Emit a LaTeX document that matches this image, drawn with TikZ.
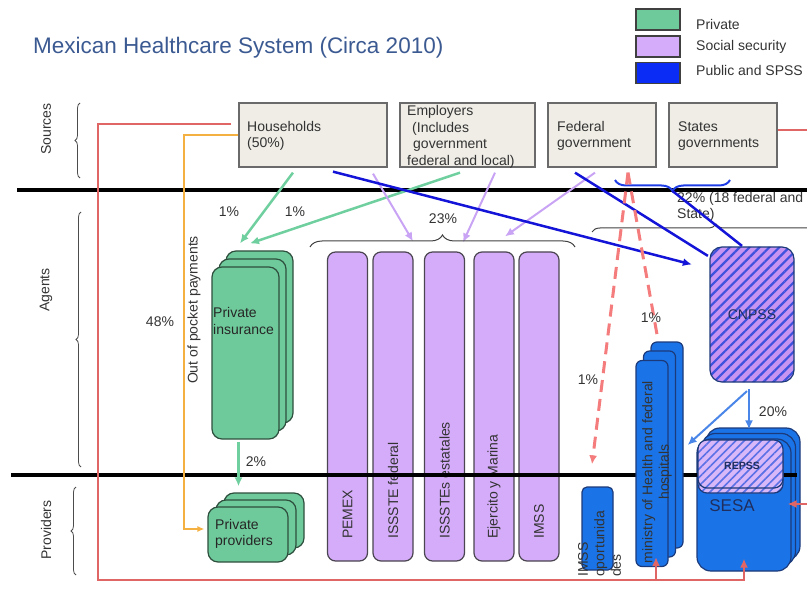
\documentclass[tikz,border=0pt]{standalone}
\usepackage{fontspec}
\setmainfont{Liberation Sans}
\usetikzlibrary{arrows.meta,calc,decorations.pathreplacing,patterns.meta}

\definecolor{titleblue}{HTML}{3C5A92}
\definecolor{srcfill}{HTML}{EFEDE6}
\definecolor{srcdraw}{HTML}{6A6A6A}
\definecolor{pvfill}{HTML}{6FCA9B}
\definecolor{pvdraw}{HTML}{2E4F3E}
\definecolor{ssfill}{HTML}{D5ACF9}
\definecolor{ssdraw}{HTML}{4A4550}
\definecolor{pubfill}{HTML}{1A74E8}
\definecolor{pubdraw}{HTML}{1C3A7A}
\definecolor{legblue}{HTML}{0A2CF5}
\definecolor{hatchfill}{HTML}{C894F2}
\definecolor{hatchline}{HTML}{3F52DE}
\definecolor{hatchfillb}{HTML}{D8B8F8}
\definecolor{hatchlineb}{HTML}{5A70E6}
\definecolor{navytext}{HTML}{1F2E5E}
\definecolor{redflow}{HTML}{E06666}
\definecolor{reddash}{HTML}{F47C7C}
\definecolor{oopflow}{HTML}{F4B142}
\definecolor{greenflow}{HTML}{6FCF9F}
\definecolor{purpleflow}{HTML}{C9A4F5}
\definecolor{blueflow}{HTML}{1414D8}
\definecolor{bracedblue}{HTML}{1F3DE6}
\definecolor{lightflow}{HTML}{4A86E8}

\tikzset{
  lbl/.style={font=\fontsize{14}{16.5}\selectfont, text=black!80, inner sep=0pt},
  srcbox/.style={draw=srcdraw, fill=srcfill, line width=1.3pt, minimum height=64pt, inner sep=0pt},
  pvbox/.style={draw=pvdraw, fill=pvfill, line width=1.2pt, rounded corners=10pt, inner sep=0pt},
  ssbox/.style={draw=ssdraw, fill=ssfill, line width=1.2pt, rounded corners=8pt, inner sep=0pt,
    minimum width=40pt, minimum height=309pt},
  pubbox/.style={draw=pubdraw, fill=pubfill, line width=1.2pt, inner sep=0pt},
  hatchbox/.style={draw=pubdraw, line width=1.2pt, inner sep=0pt, preaction={fill=hatchfill},
    pattern={Lines[angle=45,distance=7pt,line width=2.2pt]}, pattern color=hatchline},
  hatchlight/.style={draw=pubdraw, line width=1.2pt, inner sep=0pt, preaction={fill=hatchfillb},
    pattern={Lines[angle=45,distance=6pt,line width=1.6pt]}, pattern color=hatchlineb},
  keybox/.style={draw=black!75, line width=1.2pt, minimum width=44pt, minimum height=21pt, inner sep=0pt},
  sepline/.style={line width=3.5pt, black},
  sidebrace/.style={decorate, decoration={brace, amplitude=5pt}, black!70, line width=0.8pt},
  flow/.style={line width=2.5pt, -{Latex[length=9pt,width=8pt]}},
  dashflow/.style={reddash, line width=3pt, dash pattern=on 12pt off 7pt},
}

\begin{document}
\begin{tikzpicture}[x=1pt, y=-1pt]
\useasboundingbox (0,0) rectangle (807,591);
\clip (0,0) rectangle (807,591);

% title and key
\node[anchor=west, font=\fontsize{22.5}{26}\selectfont, text=titleblue, inner sep=0pt] (title) at (33,48)
  {Mexican Healthcare System (Circa 2010)};
\node[keybox, fill=pvfill] (keyPv) at (658,19.5) {};
\node[keybox, fill=ssfill] (keySs) at (658,46.5) {};
\node[keybox, fill=legblue] (keyPub) at (658,73) {};
\node[lbl, anchor=west] (keyPvT) at (696,24) {Private};
\node[lbl, anchor=west] (keySsT) at (696,47) {Social security};
\node[lbl, anchor=west] (keyPubT) at (696,70) {Public and SPSS};

% rows
\node[lbl, rotate=90] (rowSrc) at (46,129) {Sources};
\node[lbl, rotate=90] (rowAg) at (46,290) {Agents};
\node[lbl, rotate=90] (rowPr) at (46,530) {Providers};
\draw[sidebrace] (80,178) -- (80,103);
\draw[sidebrace] (81,467) -- (81,212);
\draw[sidebrace] (76,575) -- (76,487);
\draw[sepline] (17,190) -- (807,190);

% sources
\node[srcbox, minimum width=148pt] (hh) at (313,135) {};
\node[srcbox, minimum width=135pt] (emp) at (467.5,135) {};
\node[srcbox, minimum width=108pt] (fed) at (602,135) {};
\node[srcbox, minimum width=108pt] (st) at (723,135) {};
\node[lbl, align=left, anchor=west] (hhT) at (247,136) {Households\\(50\%)};
\node[lbl, align=left, anchor=west] (empT) at (407,137)
  {Employers\\\hspace*{5pt}(Includes\\\hspace*{6pt}government\\federal and local)};
\node[lbl, align=left, anchor=west] (fedT) at (557,136) {Federal\\government};
\node[lbl, align=left, anchor=west] (stT) at (678,136) {States\\governments};

% agents
\node[pvbox, minimum width=67pt, minimum height=172pt] (pins3) at (259.5,337) {};
\node[pvbox, minimum width=67pt, minimum height=172pt] (pins2) at (252.5,345) {};
\node[pvbox, minimum width=67pt, minimum height=172pt] (pins) at (245.5,353) {};
\node[lbl, align=left, anchor=west, text=black!85] (pinsT) at (213,321) {Private\\insurance};

\foreach \n/\x/\lab in {1/347.5/PEMEX, 2/393/ISSSTE federal, 3/444.5/ISSSTEs estatales,
    4/494/Ejercito y Marina, 5/539/IMSS}{
  \node[ssbox] (col\n) at (\x,406.5) {};
  \node[lbl, rotate=90, anchor=west] (colT\n) at (\x,539) {\lab};
}

\node[hatchbox, rounded corners=12pt, minimum width=84pt, minimum height=135pt, text=navytext,
  font=\fontsize{14}{16}\selectfont] (cnpss) at (752,314.5) {CNPSS};

% providers
\node[pvbox, minimum width=80pt, minimum height=55pt] (pprov3) at (264,520.5) {};
\node[pvbox, minimum width=80pt, minimum height=55pt] (pprov2) at (256,527.5) {};
\node[pvbox, minimum width=80pt, minimum height=55pt] (pprov) at (248,534.5) {};
\node[lbl, align=left, anchor=west, text=black!85] (pprovT) at (215,534) {Private\\providers};

\node[pubbox, rounded corners=5pt, minimum width=31pt, minimum height=83pt] (imssop) at (597.5,528.5) {};
\node[lbl, rotate=90, align=left, anchor=north west] (imssopT) at (578,577) {IMSS\\oportunida\\des};

\node[pubbox, rounded corners=14pt, minimum width=94pt, minimum height=132pt] (sesa3) at (753,494) {};
\node[pubbox, rounded corners=14pt, minimum width=94pt, minimum height=132pt] (sesa2) at (748.5,499.5) {};
\node[pubbox, rounded corners=14pt, minimum width=94pt, minimum height=132pt] (sesa) at (744,505) {};
\node[font=\fontsize{17}{20}\selectfont, text=navytext, inner sep=0pt] (sesaT) at (732,506) {SESA};

\draw[sepline] (11,475) -- (797,475);

\node[pubbox, rounded corners=6pt, minimum width=32pt, minimum height=206pt] (min3) at (667,445) {};
\node[pubbox, rounded corners=6pt, minimum width=32pt, minimum height=206pt] (min2) at (659.5,454) {};
\node[pubbox, rounded corners=6pt, minimum width=32pt, minimum height=206pt] (min) at (652,463.5) {};
\node[lbl, rotate=90, align=center] (minT) at (657,472) {ministry of Health and federal\\hospitals};

\node[hatchlight, rounded corners=9pt, minimum width=85pt, minimum height=48pt] (repss2) at (740.5,469) {};
\node[hatchlight, rounded corners=9pt, minimum width=85pt, minimum height=48pt] (repss) at (740.5,464) {};
\node[font=\bfseries\fontsize{10.5}{12}\selectfont, text=navytext, inner sep=0pt] (repssT) at (742,466) {REPSS};

% flows
\draw[flow, greenflow] ($(hh.south)+(-20,5)$) -- ($(pins3.north)+(-19.5,-7)$);
\draw[flow, greenflow] ($(emp.south)+(-7.5,5)$) -- ($(pins3.north)+(-9.5,-7)$);
\draw[flow, greenflow] ($(pins.south)+(-7,2)$) -- ($(pins.south |- pprov3.north)+(-7,-6)$);

\draw[flow, purpleflow, line width=2pt] ($(hh.south)+(60,6)$) -- ($(col2.north)+(20,-10)$);
\draw[flow, purpleflow, line width=2pt] ($(emp.south)+(27.5,5)$) -- ($(col3.north)+(18.5,-9)$);
\draw[flow, purpleflow, line width=2pt] ($(fed.south)+(-7,5)$) -- ($(col4.north)+(11,-15)$);
\draw[decorate, decoration={brace, amplitude=12pt}, black!75, line width=1pt] (310,247) -- (575,247);
\draw[decorate, decoration={brace, amplitude=8pt}, black!75, line width=1pt] (592,232) -- (840,232);

\draw[decorate, decoration={brace, amplitude=11pt}, bracedblue, line width=2pt] (730,180) -- (615,180);
\coordinate (btip) at (672.5,191);
\node[lbl, align=left, anchor=west] (p22) at (677,207) {22\% (18 federal and\\State)};
\draw[flow, blueflow] ($(hh.south)+(20,4)$) -- ($(cnpss.west)+(-17,-50)$);
\draw[blueflow, line width=2.5pt] ($(fed.south)+(-27,5)$) -- ($(cnpss.north west)+(-1,10)$);
\draw[blueflow, line width=2.5pt] (btip) -- ($(cnpss.north)+(-10,0)$);

\coordinate (fedTip) at ($(fed.south)+(26,5)$);
\draw[dashflow, -{Latex[length=9pt,width=8pt]}] (fedTip) -- ($(imssop.north)+(-5.5,-22)$);
\draw[dashflow] (fedTip) -- ($(min3.north)+(-10,-7)$);

\draw[flow, lightflow, line width=2pt] ($(cnpss.south)+(-3,6)$) -- ($(cnpss.south |- sesa3.north)+(-3,2)$);
\draw[flow, lightflow, line width=2pt] ($(cnpss.south)+(-5,8)$) -- ($(min3.east)+(4,0)$);

\coordinate (botLeft) at (98,580);
\draw[flow, redflow, line width=2.8pt] ($(hh.west)+(-7,-11)$) -| (botLeft) -| ($(sesa.south)+(0,-13)$);
\draw[flow, redflow, line width=2.8pt] ($(min.south |- botLeft)+(4,0)$) -- ($(min.south)+(4,-10)$);
\draw[flow, redflow, line width=2.8pt] ($(st.east)+(0,-5)$) -- ++(50,0) |- ($(sesa3.east)+(-13,10)$);

\draw[oopflow, line width=2pt, -{Latex[length=7pt,width=6pt]}]
  (hh.west) -| ($(pprov.west)+(-23,-5.5)$) -- ($(pprov.west)+(-3,-5.5)$);
\node[lbl, rotate=90] (oopT) at (194,310) {Out of pocket payments};

% shares
\node[lbl] (p1a) at (229,212) {1\%};
\node[lbl] (p1b) at (295,212) {1\%};
\node[lbl] (p48) at (160,322) {48\%};
\node[lbl] (p2) at (256,462) {2\%};
\node[lbl] (p23) at (443,219) {23\%};
\node[lbl] (p1c) at (588,380) {1\%};
\node[lbl] (p1d) at (651,318) {1\%};
\node[lbl] (p20) at (773,412) {20\%};
\end{tikzpicture}
\end{document}
